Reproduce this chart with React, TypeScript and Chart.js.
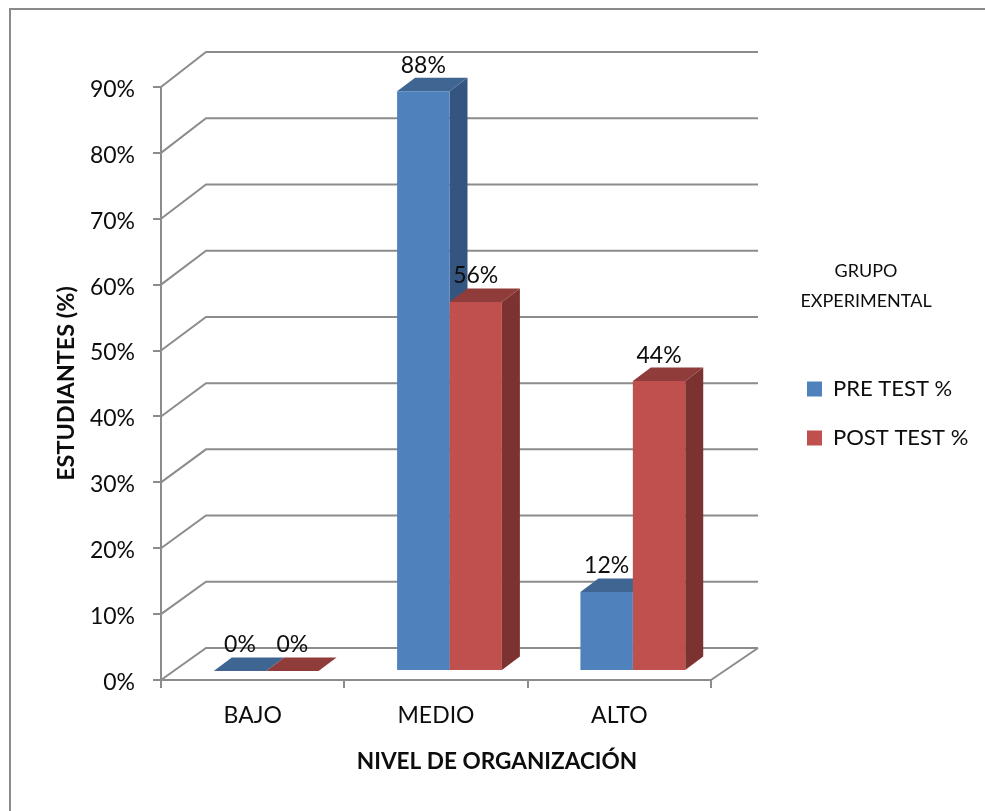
import React, { useEffect, useRef } from "react";
import { Chart, registerables } from "chart.js";

Chart.register(...registerables);

const categories = ["BAJO", "MEDIO", "ALTO"];
const preTest = [0, 88, 12];
const postTest = [0, 56, 44];
const seriesNames = ["PRE TEST %", "POST TEST %"];
const yAxisTitle = "ESTUDIANTES (%)";
const xAxisTitle = "NIVEL DE ORGANIZACIÓN";
const noteLines = ["GRUPO", "EXPERIMENTAL"];

const FONT = "Lato, Carlito, Calibri, sans-serif";
const BLUE = "#4F81BD";
const RED = "#C0504D";
const TOPS = ["#3F6593", "#8F3C3A"];
const SIDES = ["#34557F", "#7C3230"];
const GRID = "#8C8C8C";
const TEXT = "#0d0d0d";

// 3-D projection
const WALL_DX = 45;
const WALL_DY = -32;
const BAR_SHIFT_X = 13.5;
const BAR_SHIFT_Y = -9;
const BAR_DX = 18;
const BAR_DY = -13.5;

const backdrop = {
  id: "backdrop",
  beforeDraw(chart: any) {
    const { ctx, scales } = chart;
    const { left, right, bottom } = chart.chartArea;
    ctx.save();
    ctx.strokeStyle = "#8a8a8a";
    ctx.lineWidth = 2;
    ctx.beginPath();
    ctx.moveTo(10, 811);
    ctx.lineTo(10, 9);
    ctx.lineTo(985, 9);
    ctx.stroke();

    ctx.strokeStyle = GRID;
    ctx.lineWidth = 2;
    const y = scales.y;
    y.ticks.forEach((t: any) => {
      const py = y.getPixelForValue(t.value);
      const by = bottom + WALL_DY + (py - bottom) * 1.005;
      ctx.beginPath();
      ctx.moveTo(left, py);
      ctx.lineTo(left + WALL_DX, by);
      ctx.lineTo(right + WALL_DX + 2, by);
      ctx.stroke();
    });
    ctx.beginPath();
    ctx.moveTo(right, bottom);
    ctx.lineTo(right + WALL_DX + 2, bottom + WALL_DY);
    ctx.stroke();
    ctx.restore();
  },
};

const bars3d = {
  id: "bars3d",
  // Tops and sides of every bar go first, so each front face lies over them.
  beforeDatasetsDraw(chart: any) {
    const { ctx } = chart;
    ctx.save();
    ctx.translate(BAR_SHIFT_X, BAR_SHIFT_Y);
    const count = chart.data.labels.length;
    for (let j = 0; j < count; j++) {
      chart.data.datasets.forEach((_: any, i: number) => {
        const bar = chart.getDatasetMeta(i).data[j];
        const l = bar.x - bar.width / 2;
        const r = bar.x + bar.width / 2;
        const t = bar.y;
        const b = bar.base;
        ctx.fillStyle = SIDES[i];
        ctx.beginPath();
        ctx.moveTo(r, t);
        ctx.lineTo(r + BAR_DX, t + BAR_DY);
        ctx.lineTo(r + BAR_DX, b + BAR_DY);
        ctx.lineTo(r, b);
        ctx.closePath();
        ctx.fill();
        ctx.fillStyle = TOPS[i];
        ctx.beginPath();
        ctx.moveTo(l, t);
        ctx.lineTo(l + BAR_DX, t + BAR_DY);
        ctx.lineTo(r + BAR_DX, t + BAR_DY);
        ctx.lineTo(r, t);
        ctx.closePath();
        ctx.fill();
      });
    }
    ctx.restore();
  },
  beforeDatasetDraw(chart: any) {
    chart.ctx.save();
    chart.ctx.translate(BAR_SHIFT_X, BAR_SHIFT_Y);
  },
  afterDatasetDraw(chart: any) {
    chart.ctx.restore();
  },
  afterDatasetsDraw(chart: any) {
    const { ctx } = chart;
    ctx.save();
    ctx.fillStyle = TEXT;
    ctx.font = `23px ${FONT}`;
    ctx.textAlign = "center";
    ctx.textBaseline = "middle";
    chart.data.datasets.forEach((ds: any, i: number) => {
      chart.getDatasetMeta(i).data.forEach((bar: any, j: number) => {
        ctx.fillText(`${ds.data[j]}%`, bar.x + BAR_SHIFT_X, bar.y + BAR_SHIFT_Y - 26);
      });
    });
    ctx.restore();
  },
};

const annotations = {
  id: "annotations",
  afterLayout(chart: any) {
    const lg = chart.legend;
    if (lg) {
      const w = lg.width;
      const h = lg.height;
      lg.left = 780;
      lg.right = 780 + w;
      lg.top = 351;
      lg.bottom = 351 + h;
    }
  },
  afterDraw(chart: any) {
    const { ctx } = chart;
    ctx.save();
    ctx.fillStyle = TEXT;
    ctx.textAlign = "center";
    ctx.textBaseline = "middle";
    ctx.font = `18px ${FONT}`;
    ctx.fillText(noteLines[0], 866, 271);
    ctx.fillText(noteLines[1], 866, 301);
    ctx.font = `bold 22.6px ${FONT}`;
    ctx.fillText(xAxisTitle, 497, 762);
    ctx.restore();
  },
};

export default function App() {
  const ref = useRef<HTMLCanvasElement>(null);
  useEffect(() => {
    document.body.style.margin = "0";
    document.body.style.background = "#ffffff";
    const chart = new Chart(ref.current as HTMLCanvasElement, {
      type: "bar",
      data: {
        labels: categories,
        datasets: [
          { label: seriesNames[0], data: preTest, backgroundColor: BLUE, clip: false },
          { label: seriesNames[1], data: postTest, backgroundColor: RED, clip: false },
        ],
      },
      plugins: [backdrop, bars3d, annotations],
      options: {
        responsive: false,
        animation: false,
        events: [],
        layout: { padding: { left: 40, top: 87, right: 274, bottom: 37 } },
        datasets: { bar: { categoryPercentage: 0.5716, barPercentage: 1 } },
        plugins: {
          tooltip: { enabled: false },
          title: { display: false },
          legend: {
            display: true,
            position: "chartArea",
            align: "start",
            labels: {
              color: TEXT,
              boxWidth: 15,
              boxHeight: 15,
              padding: 27,
              font: { family: FONT, size: 22 },
            },
          },
        },
        scales: {
          x: {
            offset: true,
            afterFit: (s: any) => { s.height = 94; },
            border: { display: true, color: GRID, width: 2 },
            grid: { display: true, offset: true, drawOnChartArea: false, drawTicks: true, tickLength: 8, color: GRID, lineWidth: 2 },
            ticks: { color: TEXT, font: { family: FONT, size: 23 }, padding: 14, maxRotation: 0 },
          },
          y: {
            min: 0,
            max: 90,
            afterFit: (s: any) => { s.width = 121; },
            border: { display: true, color: GRID, width: 2 },
            grid: { display: true, drawOnChartArea: false, drawTicks: true, tickLength: 8, color: GRID, lineWidth: 2 },
            ticks: {
              stepSize: 10,
              color: TEXT,
              padding: 18,
              labelOffset: 2.5,
              font: { family: FONT, size: 23 },
              callback: (v: any) => `${v}%`,
            },
            title: {
              display: true,
              text: yAxisTitle,
              color: TEXT,
              font: { family: FONT, size: 23.4, weight: "bold" },
              padding: { top: 12, bottom: 0 },
            },
          },
        },
      },
    } as any);
    return () => chart.destroy();
  }, []);
  return <canvas ref={ref} width={985} height={811} style={{ display: "block", width: 985, height: 811 }} />;
}
